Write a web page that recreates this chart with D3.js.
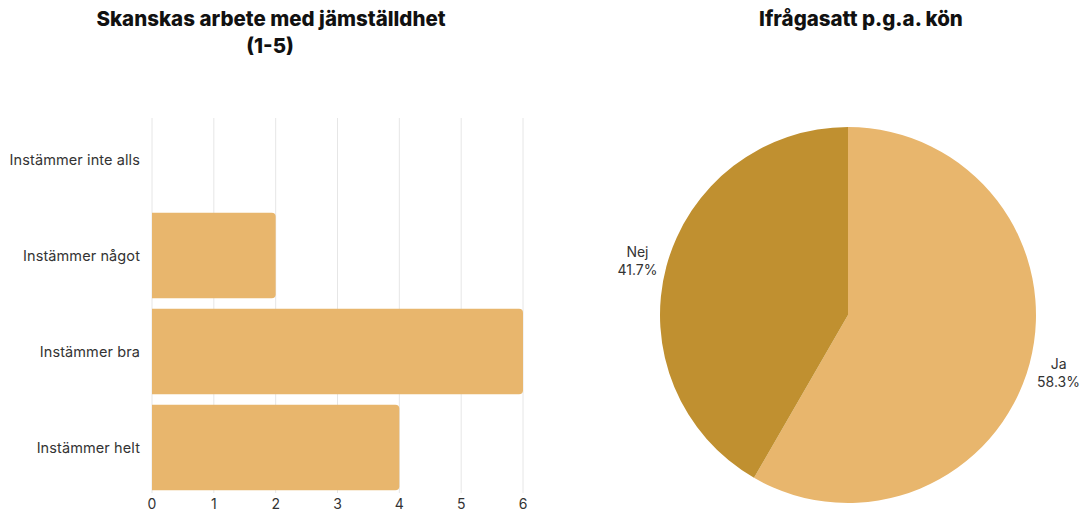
<!DOCTYPE html>
<html><head><meta charset="utf-8">
<script src="https://cdn.jsdelivr.net/npm/d3@7"></script>
<style>
body{margin:0;background:#fff;}
text{font-family:Inter, "Noto Sans", sans-serif;}
</style></head>
<body><svg id="c" width="1088" height="513"></svg>
<script>
const barCategories = ["Instämmer inte alls","Instämmer något","Instämmer bra","Instämmer helt"];
const barValues = [0, 2, 6, 4];
const xTicks = [0,1,2,3,4,5,6];
const pieLabels = ["Ja","Nej"];
const pieValues = [7, 5];

const svg = d3.select("#c");
const light = "#E8B66D", dark = "#C09030";

// Titles
svg.append("text").attr("x",271).attr("y",26).attr("text-anchor","middle")
  .attr("font-size",20.5).attr("font-weight",800).attr("fill","#111")
  .text("Skanskas arbete med jämställdhet");
svg.append("text").attr("x",270).attr("y",53).attr("text-anchor","middle")
  .attr("font-size",20.5).attr("font-weight",800).attr("fill","#111").text("(1-5)");
svg.append("text").attr("x",861).attr("y",26).attr("text-anchor","middle")
  .attr("font-size",20.5).attr("font-weight",800).attr("fill","#111")
  .text("Ifrågasatt p.g.a. kön");

// Bar chart
const x = d3.scaleLinear().domain([0,6]).range([152,523]);
const y = d3.scaleBand().domain(barCategories).range([112,495]).paddingInner(0.11).paddingOuter(0.05);
const g = svg.append("g");
g.selectAll("line.grid").data(xTicks).join("line")
  .attr("x1",d=>x(d)).attr("x2",d=>x(d)).attr("y1",118).attr("y2",493)
  .attr("stroke","#e6e6e6").attr("stroke-width",1);
g.selectAll("text.xt").data(xTicks).join("text")
  .attr("x",d=>x(d)).attr("y",509).attr("text-anchor","middle")
  .attr("font-size",14).attr("fill","#333").text(d=>d);
g.selectAll("text.yl").data(barCategories).join("text")
  .attr("x",140).attr("y",d=>y(d)+y.bandwidth()/2).attr("dy","0.35em").attr("text-anchor","end")
  .attr("font-size",14.5).attr("letter-spacing","0.1").attr("fill","#333").text(d=>d);
const r = 4;
g.selectAll("path.bar").data(barCategories.map((c,i)=>({c,v:barValues[i]})).filter(d=>d.v>0)).join("path")
  .attr("fill",light)
  .attr("d",d=>{
    const x0=x(0), x1=x(d.v), y0=y(d.c), h=y.bandwidth();
    return `M${x0},${y0}H${x1-r}Q${x1},${y0} ${x1},${y0+r}V${y0+h-r}Q${x1},${y0+h} ${x1-r},${y0+h}H${x0}Z`;
  });

// Pie
const cx=848, cy=315, R=188;
const pie = d3.pie().sort(null)(pieValues);
const arc = d3.arc().innerRadius(0).outerRadius(R);
const pg = svg.append("g").attr("transform",`translate(${cx},${cy})`);
pg.selectAll("path").data(pie).join("path").attr("d",arc)
  .attr("fill",(d,i)=>i===0?light:dark);
const total = d3.sum(pieValues);
const labelArc = d3.arc().innerRadius(R+30).outerRadius(R+30);
pg.selectAll("g.lbl").data(pie).join("g").each(function(d,i){
  const [lx,ly]=labelArc.centroid(d);
  const t=d3.select(this).append("text").attr("text-anchor","middle").attr("font-size",14).attr("fill","#333");
  t.append("tspan").attr("x",lx).attr("y",ly-2).text(pieLabels[i]);
  t.append("tspan").attr("x",lx).attr("y",ly+16).text((pieValues[i]/total*100).toFixed(1)+"%");
});
</script></body></html>
